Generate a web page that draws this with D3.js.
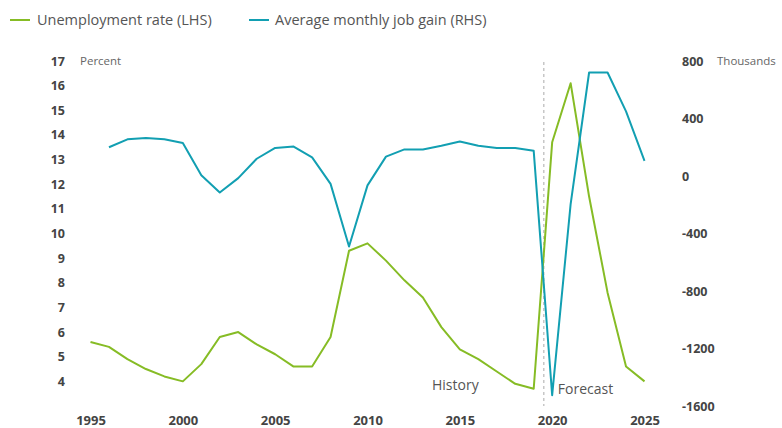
<!DOCTYPE html>
<html><head><meta charset="utf-8">
<script src="https://cdn.jsdelivr.net/npm/d3@7"></script>
<style>
body{margin:0;background:#fff;}
svg{font-family:"Open Sans",sans-serif;display:block;}
</style></head>
<body><svg id="c" width="782" height="428"></svg>
<script>
const years = d3.range(1995, 2026);
const unemployment = [5.6,5.4,4.9,4.5,4.2,4.0,4.7,5.8,6.0,5.5,5.1,4.6,4.6,5.8,9.3,9.6,8.9,8.1,7.4,6.2,5.3,4.9,4.4,3.9,3.7,13.7,16.1,11.5,7.6,4.6,4.0];
const jobYears = d3.range(1996, 2026);
const jobGain = [200,255,265,255,230,5,-115,-15,120,195,205,130,-55,-490,-65,135,185,185,210,240,210,195,195,175,-1525,-195,720,720,450,105];
const leftTicks = [4,5,6,7,8,9,10,11,12,13,14,15,16,17];
const rightTicks = [800,400,0,-400,-800,-1200,-1600];
const xTicks = [1995,2000,2005,2010,2015,2020,2025];
const seriesNames = ["Unemployment rate (LHS)","Average monthly job gain (RHS)"];
const colors = ["#86bc25","#129fb2"];

const svg = d3.select("#c");
const x = d3.scaleLinear().domain([1995,2025]).range([90.5,644.5]);
const yL = d3.scaleLinear().domain([3,17]).range([406,61]);
const yR = d3.scaleLinear().domain([-1600,800]).range([406,61]);
const fmt = d => String(d);

// legend
const leg = [[10,37],[249,275]];
seriesNames.forEach((n,i)=>{
  svg.append("line").attr("x1",leg[i][0]).attr("x2",leg[i][0]+20).attr("y1",20).attr("y2",20)
    .attr("stroke",colors[i]).attr("stroke-width",2);
  svg.append("text").attr("x",leg[i][1]).attr("y",20).attr("dy","0.35em")
    .attr("font-size",14.5).attr("fill","#555").text(n);
});

// left axis
const gL = svg.append("g").attr("transform","translate(65,0)")
  .call(d3.axisLeft(yL).tickValues(leftTicks).tickSize(0).tickPadding(0).tickFormat(fmt));
gL.select(".domain").remove();
gL.selectAll("text").attr("font-size",12.5).attr("font-weight",700).attr("fill","#444").attr("font-family","Open Sans");
svg.append("text").attr("x",80).attr("y",yL(17)).attr("dy","0.35em").attr("font-size",11.5).attr("fill","#666").text("Percent");

// right axis
const gR = svg.append("g").attr("transform","translate(682,0)")
  .call(d3.axisRight(yR).tickValues(rightTicks).tickSize(0).tickPadding(0).tickFormat(fmt));
gR.select(".domain").remove();
gR.selectAll("text").attr("font-size",12.5).attr("font-weight",700).attr("fill","#444").attr("font-family","Open Sans");
svg.append("text").attr("x",717).attr("y",yR(800)).attr("dy","0.35em").attr("font-size",11.5).attr("fill","#666").text("Thousands");

// x axis
const gX = svg.append("g").attr("transform","translate(0,416)")
  .call(d3.axisBottom(x).tickValues(xTicks).tickSize(0).tickPadding(0).tickFormat(fmt));
gX.select(".domain").remove();
gX.selectAll("text").attr("font-size",13).attr("font-weight",700).attr("fill","#444").attr("font-family","Open Sans");

// divider
const divX = x(2019.55);
svg.append("line").attr("x1",divX).attr("x2",divX).attr("y1",62).attr("y2",406)
  .attr("stroke","#aaa").attr("stroke-width",1).attr("stroke-dasharray","3,3");
svg.append("text").attr("x",432).attr("y",385).attr("dy","0.35em")
  .attr("font-size",14).attr("fill","#555").text("History");
svg.append("text").attr("x",divX+14).attr("y",389).attr("dy","0.35em")
  .attr("font-size",14).attr("fill","#555").text("Forecast");

// lines
const lineL = d3.line().x((d,i)=>x(years[i])).y(d=>yL(d));
const lineR = d3.line().x((d,i)=>x(jobYears[i])).y(d=>yR(d));
svg.append("path").datum(unemployment).attr("d",lineL).attr("fill","none")
  .attr("stroke",colors[0]).attr("stroke-width",2).attr("stroke-linejoin","round");
svg.append("path").datum(jobGain).attr("d",lineR).attr("fill","none")
  .attr("stroke",colors[1]).attr("stroke-width",2).attr("stroke-linejoin","round");
</script></body></html>
